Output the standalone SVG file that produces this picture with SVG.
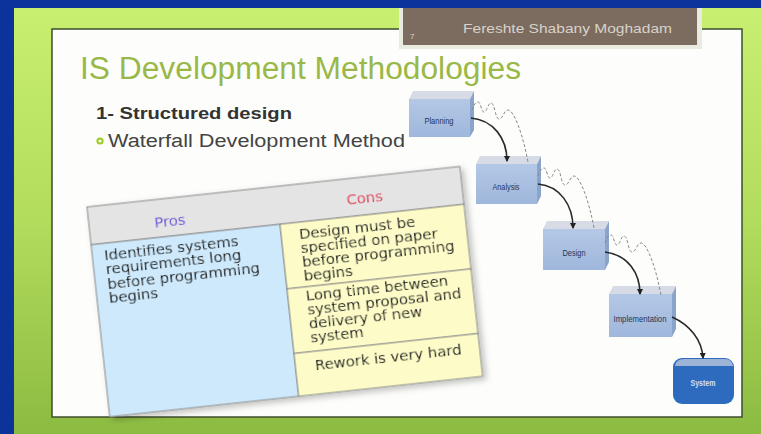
<svg xmlns="http://www.w3.org/2000/svg" width="761" height="434" viewBox="0 0 761 434">
  <defs>
    <linearGradient id="bg" x1="0" y1="0" x2="0" y2="1">
      <stop offset="0" stop-color="#c9ef70"/>
      <stop offset="0.5" stop-color="#b2dc5c"/>
      <stop offset="1" stop-color="#8cbb42"/>
    </linearGradient>
    <linearGradient id="front" x1="0" y1="0" x2="0" y2="1">
      <stop offset="0" stop-color="#b4c8e6"/>
      <stop offset="1" stop-color="#9fb7dc"/>
    </linearGradient>
    <marker id="ah" viewBox="0 0 6 6" refX="5" refY="3" markerWidth="4" markerHeight="4" orient="auto">
      <path d="M0,0 L6,3 L0,6 z" fill="#222"/>
    </marker>
    <filter id="sh" x="-10%" y="-10%" width="130%" height="130%">
      <feDropShadow dx="3" dy="3" stdDeviation="3" flood-color="#000" flood-opacity="0.25"/>
    </filter>
  </defs>
  <style>
    .top { fill: #d6dbe6; }
    .side { fill: #8aa4cc; }
    .face { fill: url(#front); }
    .lbl { font-family: "Liberation Sans", Arial, sans-serif; font-size: 9px; fill: #22355a; text-anchor: middle; }
    .cell { stroke: #8a8a8a; stroke-width: 1; }
    .tt { font-family: "DejaVu Sans", Verdana, sans-serif; font-size: 13.5px; fill: #222; }
    .arrow { fill: none; stroke: #2a2a2a; stroke-width: 1.6; marker-end: url(#ah); }
    .fb { fill: none; stroke: #888; stroke-width: 1; stroke-dasharray: 3 2; }
  </style>

  <!-- background -->
  <rect x="0" y="0" width="761" height="434" fill="#0b3399"/>
  <rect x="14" y="8" width="747" height="426" fill="url(#bg)"/>

  <!-- white content panel -->
  <rect x="52" y="29" width="690" height="388" fill="#fdfefb" stroke="#3e4c2c" stroke-width="1.5"/>

  <!-- footer/name plate -->
  <rect x="399" y="0" width="303" height="49" fill="#e9ebe0"/>
  <rect x="403" y="0" width="294" height="45" fill="#7b6c5f"/>
  <text x="410" y="39" font-family="Liberation Sans, sans-serif" font-size="8" fill="#d8d0c6">7</text>
  <text x="463" y="33" font-family="Liberation Sans, sans-serif" font-size="13.5" fill="#d9d2ca" textLength="209" lengthAdjust="spacingAndGlyphs">Fereshte Shabany Moghadam</text>
  <rect x="0" y="0" width="761" height="8" fill="#0b3399"/>

  <!-- title and bullets -->
  <text x="80" y="79" font-family="Liberation Sans, sans-serif" font-size="31" fill="#9ab848" textLength="441" lengthAdjust="spacingAndGlyphs">IS Development Methodologies</text>
  <text x="96" y="119" font-family="Liberation Sans, sans-serif" font-size="17" font-weight="bold" fill="#333" textLength="196" lengthAdjust="spacingAndGlyphs">1- Structured design</text>
  <circle cx="100" cy="141" r="2.6" fill="none" stroke="#9ccc1e" stroke-width="2"/>
  <text x="108" y="147" font-family="Liberation Sans, sans-serif" font-size="18" fill="#444" textLength="297" lengthAdjust="spacingAndGlyphs">Waterfall Development Method</text>

  <!-- pros / cons table -->
  <g id="pros-cons-table" transform="translate(87,207) rotate(-6.2)" filter="url(#sh)">
    <rect class="cell" x="0" y="0" width="375" height="38" fill="#e4e4e4"/>
    <rect class="cell" x="0" y="38" width="190" height="173" fill="#cde9fb"/>
    <rect class="cell" x="190" y="38" width="185" height="65" fill="#fdfcc8"/>
    <rect class="cell" x="190" y="103" width="185" height="65" fill="#fdfcc8"/>
    <rect class="cell" x="190" y="168" width="185" height="43" fill="#fdfcc8"/>
    <g transform="scale(1.1,1)">
      <text class="tt" x="73.6" y="28" text-anchor="middle" style="fill:#6c5ad6">Pros</text>
      <text class="tt" x="251.8" y="26" text-anchor="middle" style="fill:#e0405a">Cons</text>
      <text class="tt" x="10.9" y="55">Identifies systems</text>
      <text class="tt" x="10.9" y="69.5">requirements long</text>
      <text class="tt" x="10.9" y="84">before programming</text>
      <text class="tt" x="10.9" y="98.5">begins</text>
      <text class="tt" x="189" y="55">Design must be</text>
      <text class="tt" x="189" y="69">specified on paper</text>
      <text class="tt" x="189" y="83">before programming</text>
      <text class="tt" x="189" y="97">begins</text>
      <text class="tt" x="189" y="117">Long time between</text>
      <text class="tt" x="189" y="131">system proposal and</text>
      <text class="tt" x="189" y="145">delivery of new</text>
      <text class="tt" x="189" y="159">system</text>
      <text class="tt" x="190.5" y="187">Rework is very hard</text>
    </g>
  </g>

  <!-- waterfall boxes -->
  <g id="planning">
    <polygon class="top" points="409,99 413,91 474,91 470,99"/>
    <polygon class="side" points="470,99 474,91 474,130 470,137"/>
    <rect class="face" x="409" y="99" width="61" height="38"/>
    <text class="lbl" x="439" y="124" textLength="29" lengthAdjust="spacingAndGlyphs">Planning</text>
  </g>
  <g id="analysis">
    <polygon class="top" points="476,164 480,156 541,156 537,164"/>
    <polygon class="side" points="537,164 541,156 541,196 537,204"/>
    <rect class="face" x="476" y="164" width="61" height="40"/>
    <text class="lbl" x="506" y="190" textLength="27" lengthAdjust="spacingAndGlyphs">Analysis</text>
  </g>
  <g id="design">
    <polygon class="top" points="543,229 547,221 609,221 605,229"/>
    <polygon class="side" points="605,229 609,221 609,262 605,270"/>
    <rect class="face" x="543" y="229" width="62" height="41"/>
    <text class="lbl" x="574" y="256" textLength="23" lengthAdjust="spacingAndGlyphs">Design</text>
  </g>
  <g id="implementation">
    <polygon class="top" points="609,294 613,286 676,286 672,294"/>
    <polygon class="side" points="672,294 676,286 676,329 672,337"/>
    <rect class="face" x="609" y="294" width="63" height="43"/>
    <text class="lbl" x="640" y="322" textLength="53" lengthAdjust="spacingAndGlyphs">Implementation</text>
  </g>
  <g id="system">
    <rect x="673" y="358" width="61" height="46" rx="9" fill="#2e6bbf"/>
    <path d="M675,366 Q676,359 684,359 L725,359 Q732,359 733,366 Z" fill="#9eb4d6"/>
    <text x="703" y="386" font-family="Liberation Sans, sans-serif" font-size="9" font-weight="bold" fill="#cfe0f6" text-anchor="middle" textLength="25" lengthAdjust="spacingAndGlyphs">System</text>
  </g>

  <!-- connectors -->
  <g id="connectors">
    <path class="arrow" d="M471,118 C493,120 507,138 507,161"/>
    <path class="arrow" d="M538,184 C560,186 573,205 573,228"/>
    <path class="arrow" d="M605,252 C628,255 640,273 640,294"/>
    <path class="arrow" d="M672,317 C690,325 702,340 703,358"/>
    <path class="fb" d="M472,110 c2,-6 4,-8 6,-8 c3,0 3,10 6,10 c3,0 4,-9 7,-9 c4,0 4,16 8,16 c4,0 5,-9 9,-9 c6,0 15,25 20,52"/>
    <path class="fb" d="M538,176 c2,-6 4,-8 6,-8 c3,0 3,10 6,10 c3,0 4,-9 7,-9 c4,0 4,16 8,16 c4,0 5,-9 9,-9 c6,0 15,25 20,52"/>
    <path class="fb" d="M605,243 c2,-6 4,-8 6,-8 c3,0 3,10 6,10 c3,0 4,-9 7,-9 c4,0 4,16 8,16 c4,0 5,-9 9,-9 c6,0 15,25 20,52"/>
  </g>
</svg>
